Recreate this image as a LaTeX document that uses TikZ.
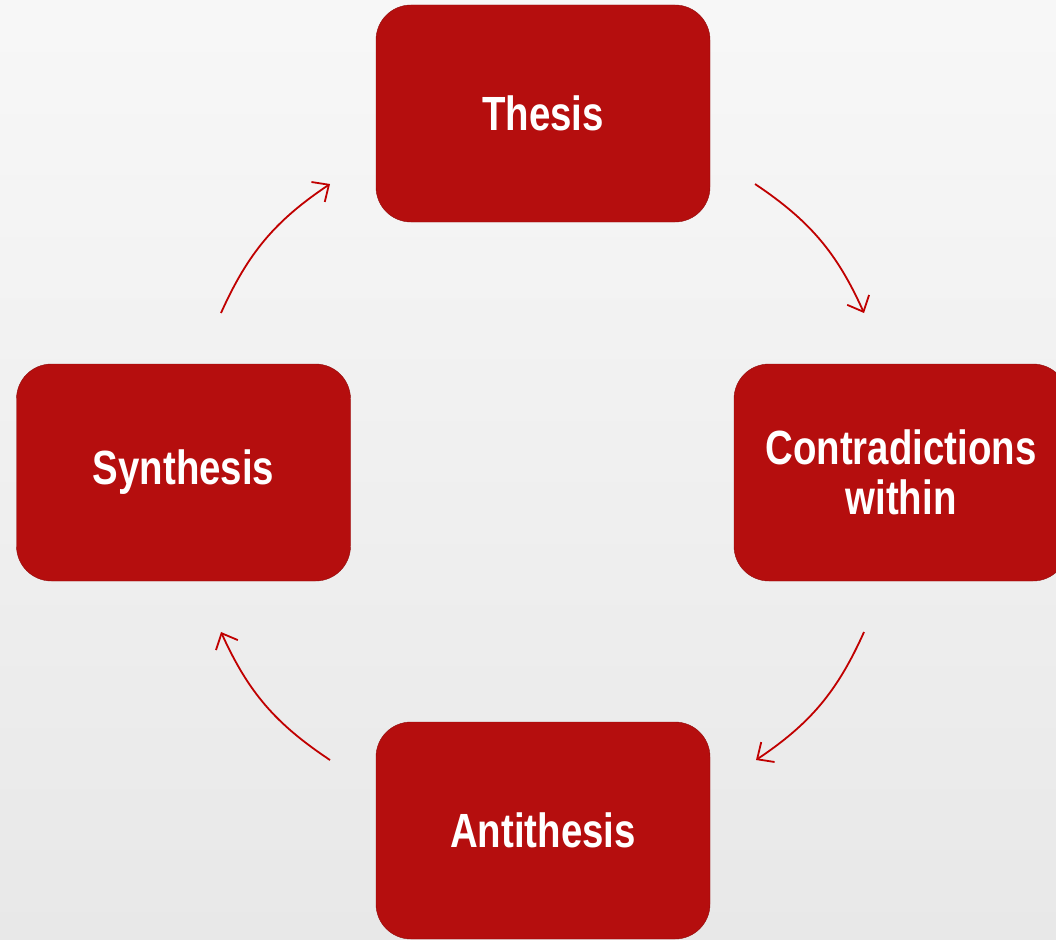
\documentclass[tikz,border=0pt]{standalone}
\usepackage{fontspec}
\usepackage{tikz}
\usetikzlibrary{arrows.meta}
\newfontfamily\boxfont[FakeStretch=0.8]{Liberation Sans}
\definecolor{boxred}{HTML}{B50E0E}
\definecolor{arrowred}{HTML}{C00000}

\begin{document}
\begin{tikzpicture}[x=1pt,y=-1pt,
    etapa/.style={draw=boxred!80!black, fill=boxred, rounded corners=35pt,
        minimum width=334pt, minimum height=217pt, inner sep=0pt,
        text=white, align=center, font=\boxfont\bfseries\fontsize{48}{50}\selectfont},
    flecha/.style={draw=arrowred, line width=1.8pt, -{Straight Barb[length=13pt,width=24pt]}}]
    % Fondo gris
    \shade[top color=gray!6, bottom color=gray!18] (0,0) rectangle (1056,939);
    \useasboundingbox (0,0) rectangle (1056,939);
    % Cajas
    \node[etapa] (tesis) at (543,113.5) {Thesis};
    \node[etapa] (contra) at (901,472.5) {Contradictions\\within};
    \node[etapa] (anti) at (543,830.5) {Antithesis};
    \node[etapa] (sintesis) at (183.5,472.5) {Synthesis};
    % Extremos de las flechas
    \coordinate (a1) at (221,313); \coordinate (b1) at (330,184);
    \coordinate (a2) at (755,184); \coordinate (b2) at (864,313);
    \coordinate (a3) at (864,632); \coordinate (b3) at (756,760);
    \coordinate (a4) at (330,760); \coordinate (b4) at (221,632);
    % Flechas del ciclo
    \draw[flecha] (a1) to[bend left=16] (b1);
    \draw[flecha] (a2) to[bend left=16] (b2);
    \draw[flecha] (a3) to[bend left=16] (b3);
    \draw[flecha] (a4) to[bend left=16] (b4);
\end{tikzpicture}
\end{document}
